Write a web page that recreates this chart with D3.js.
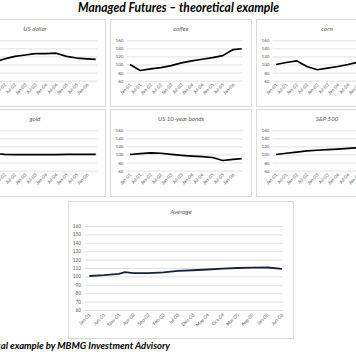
<!DOCTYPE html>
<html><head><meta charset="utf-8">
<script src="https://cdn.jsdelivr.net/npm/d3@7"></script>
<style>body{margin:0;background:#fff}svg{display:block}</style>
</head><body><svg id="c" width="356" height="355"></svg>
<script>
const sampleDates = ["Jan-01","Jul-01","Jan-02","Jul-02","Jan-03","Jul-03","Jan-04","Jul-04","Jan-05","Jul-05","Jan-06","Jun-06"];
const usDollar = [100,106,114,120,123.5,127,127,128,120,116,114,112.5];
const coffee   = [100,85,89,92,97,104,109,113,117,122,137,139];
const corn     = [100,105,109,95,87,91,95,100,106,110,112,115];
const gold     = [100,102,100.5,99.7,99.7,99.7,99.7,99.7,100.5,100.5,100.5,100.5];
const bonds    = [100,102,104,103,100.5,98,96,94.5,92.5,85,88,89.5];
const sp500    = [100,103,106,109,110.5,112,113.5,115,117,119,121,123];
const seriesNames = ["US dollar","coffee","corn","gold","US 10-year bonds","S&P 500"];
const smallTickLabels = ["Jan-01","Jul-01","Jan-02","Jul-02","Jan-03","Jul-03","Jan-04","Jul-04","Jan-05","Jul-05","Jan-06"];
const smallYTicks = [60,80,100,120,140,160];
const avgDates  = ["Jan-01","Jun-01","Nov-01","Jan-02","Apr-02","Sep-02","Feb-03","Jul-03","Dec-03","May-04","Oct-04","Mar-05","Aug-05","Jan-06","Jun-06"];
const avgValues = [100.5,101.5,103,105,103.8,104,104.8,106.5,107.3,108.2,109.2,110,110.5,110.6,109];
const avgTickLabels = ["Jan-01","Jun-01","Nov-01","Apr-02","Sep-02","Feb-03","Jul-03","Dec-03","May-04","Oct-04","Mar-05","Aug-05","Jan-06","Jun-06"];
const avgYTicks = [60,70,80,90,100,110,120,130,140,150,160];
const mainTitle = "Managed Futures \u2013 theoretical example";
const footerText = "Theoretical example by MBMG Investment Advisory";

const svg = d3.select("#c");
const parse = d3.timeParse("%b-%y");
const fmt = d3.timeFormat("%b-%y");
const FONT = "Lato, 'Open Sans', sans-serif";
const TXT = "#595959", GRID = "#d9d9d9";

svg.append("rect").attr("width",356).attr("height",355).attr("fill","#fff");

svg.append("text").attr("x",178.5).attr("y",12).attr("text-anchor","middle")
  .attr("font-family",FONT).attr("font-size",12.5).attr("font-weight","bold").attr("font-style","italic")
  .attr("fill","#000").attr("textLength",201).attr("lengthAdjust","spacingAndGlyphs").text(mainTitle);

function drawPanel(cfg){
  const g = svg.append("g").attr("transform",`translate(${cfg.px},${cfg.py})`);
  g.append("rect").attr("x",0.5).attr("y",0.5).attr("width",cfg.w-1).attr("height",cfg.h-1)
    .attr("fill","#fff").attr("stroke",GRID).attr("stroke-width",1);
  g.append("text").attr("x",cfg.w/2).attr("y",cfg.titleY).attr("text-anchor","middle")
    .attr("font-family",FONT).attr("font-size",cfg.titleSize).attr("font-style","italic")
    .attr("fill",TXT).text(cfg.name);
  const x = d3.scaleTime().domain([parse("Jan-01"),parse("Jun-06")]).range([cfg.x0,cfg.x1]);
  const y = d3.scaleLinear().domain([60,160]).range([cfg.y0,cfg.y1]);
  const ya = g.append("g").attr("transform",`translate(${cfg.gx0},0)`)
    .call(d3.axisLeft(y).tickValues(cfg.yTicks).tickSize(-(cfg.gx1-cfg.gx0)).tickPadding(cfg.yPad));
  ya.select(".domain").remove();
  ya.selectAll("line").attr("stroke",GRID).attr("stroke-width",0.8);
  ya.selectAll("text").attr("font-family",FONT).attr("font-size",cfg.fs).attr("fill",TXT);
  const xa = g.append("g").attr("transform",`translate(0,${cfg.xLabY})`)
    .call(d3.axisBottom(x).tickValues(cfg.xTicks.map(parse)).tickFormat(fmt).tickSize(0));
  xa.select(".domain").remove();
  xa.selectAll("text").attr("y",0).attr("x",0).attr("dy","0.35em")
    .attr("transform","rotate(-45)").style("text-anchor","end")
    .attr("font-family",FONT).attr("font-size",cfg.fs).attr("fill",TXT);
  const line = d3.line().x(d=>x(parse(d[0]))).y(d=>y(d[1]));
  g.append("path").datum(cfg.dates.map((d,i)=>[d,cfg.values[i]]))
    .attr("d",line).attr("fill","none").attr("stroke",cfg.color)
    .attr("stroke-width",cfg.lw).attr("stroke-linejoin","round");
}

const smallSeries = [usDollar,coffee,corn,gold,bonds,sp500];
const colsX = [-36,110,256], rowsY = [19,109];
smallSeries.forEach((vals,i)=>{
  drawPanel({px:colsX[i%3], py:rowsY[Math.floor(i/3)], w:142, h:88,
    name:seriesNames[i], titleY:12, titleSize:6.2,
    x0:20, x1:131.7, y0:61.6, y1:21.3, gx0:16.5, gx1:133, yPad:3, yTicks:smallYTicks,
    xLabY:65, xTicks:smallTickLabels, fs:4.6,
    dates:sampleDates, values:vals, color:"#000", lw:1.7});
});

drawPanel({px:68, py:201, w:226, h:138, name:"Average", titleY:13, titleSize:6.5,
  x0:21.3, x1:214, y0:109, y1:25, gx0:17, gx1:215, yPad:4, yTicks:avgYTicks,
  xLabY:113, xTicks:avgTickLabels, fs:4.8,
  dates:avgDates, values:avgValues, color:"#16213e", lw:1.8});

svg.append("text").attr("x",170).attr("y",348.5).attr("text-anchor","end")
  .attr("font-family",FONT).attr("font-size",9.5).attr("font-weight","bold").attr("font-style","italic")
  .attr("fill","#000").text(footerText);
</script></body></html>
